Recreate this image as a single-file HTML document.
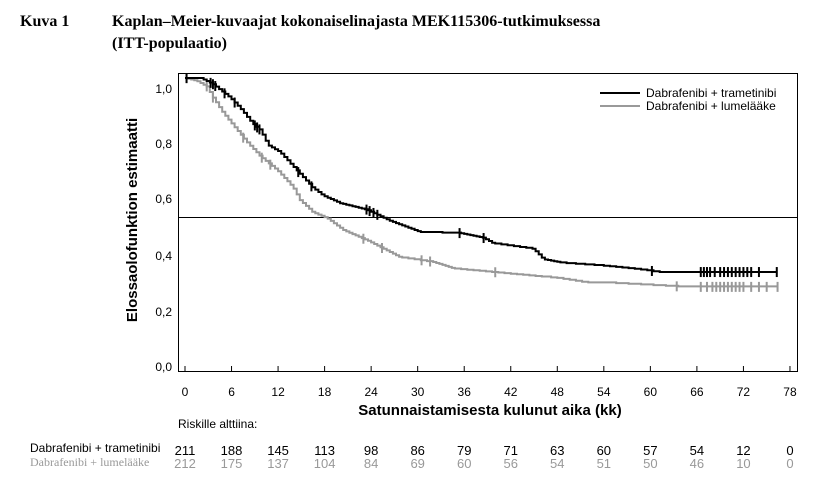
<!DOCTYPE html>
<html><head><meta charset="utf-8"><style>
body{margin:0;background:#fff;width:823px;height:488px;overflow:hidden}
svg{position:absolute;left:0;top:0}
</style></head><body>
<svg id="s" width="823" height="488" xmlns="http://www.w3.org/2000/svg">
<g font-family="Liberation Serif" font-weight="bold" font-size="16">
<text x="20" y="26">Kuva 1</text>
<text x="112" y="26">Kaplan–Meier-kuvaajat kokonaiselinajasta MEK115306-tutkimuksessa</text>
<text x="112" y="48">(ITT-populaatio)</text>
</g>
<rect x="178.5" y="73.5" width="619" height="298" fill="none" stroke="#000" stroke-width="1"/>
<line x1="178" y1="217.5" x2="797" y2="217.5" stroke="#000" stroke-width="1"/>
<g font-family="Liberation Sans" font-size="12" text-anchor="end">
<text x="172" y="93">1,0</text><text x="172" y="148">0,8</text><text x="172" y="203">0,6</text>
<text x="172" y="260">0,4</text><text x="172" y="316">0,2</text><text x="172" y="371">0,0</text>
</g>
<text transform="translate(137,220) rotate(-90)" text-anchor="middle" font-family="Liberation Sans" font-weight="bold" font-size="15">Elossaolofunktion estimaatti</text>
<g id="xt" font-family="Liberation Sans" font-size="12" text-anchor="middle"></g>
<text x="490" y="415" text-anchor="middle" font-family="Liberation Sans" font-weight="bold" font-size="15">Satunnaistamisesta kulunut aika (kk)</text>
<text x="178" y="428" font-family="Liberation Sans" font-size="12">Riskille alttiina:</text>
<text x="30" y="452" font-family="Liberation Sans" font-size="12">Dabrafenibi + trametinibi</text>
<text x="30" y="466" font-family="Liberation Serif" font-size="12" fill="#999">Dabrafenibi + lumelääke</text>
<g id="risk" font-family="Liberation Sans" font-size="13" text-anchor="middle"></g>
<line x1="600" y1="93" x2="640" y2="93" stroke="#000" stroke-width="2"/>
<line x1="600" y1="106" x2="640" y2="106" stroke="#999" stroke-width="2"/>
<g font-family="Liberation Sans" font-size="12">
<text x="646" y="97">Dabrafenibi + trametinibi</text>
<text x="646" y="110">Dabrafenibi + lumelääke</text>
</g>
<g id="curves"></g>
</svg>
<script>
var X=t=>185+t*7.756, Y=v=>358-280*v;
var s='',r='';
var a=[211,188,145,113,98,86,79,71,63,60,57,54,12,0],b=[212,175,137,104,84,69,60,56,54,51,50,46,10,0];
for(var i=0;i<=13;i++){var x=X(i*6);
s+='<text x="'+x+'" y="396">'+i*6+'</text><line x1="'+x+'" y1="366" x2="'+x+'" y2="371" stroke="#000"/>';
r+='<text x="'+x+'" y="455">'+a[i]+'</text><text x="'+x+'" y="468" fill="#999">'+b[i]+'</text>';}
document.getElementById('xt').innerHTML=s;document.getElementById('risk').innerHTML=r;
function interp(k,t){for(var i=1;i<k.length;i++)if(t<=k[i][0]){var p=k[i-1],q=k[i];return p[1]+(q[1]-p[1])*(t-p[0])/(q[0]-p[0]);}return k[k.length-1][1];}
function path(k,end,col,cens){var d='M'+X(0)+','+Y(1),prev=1,out='';
for(var t=0.4;t<=end;t+=0.4){var v=interp(k,t);if(Math.abs(v-prev)>0.002){d+='H'+X(t).toFixed(1)+'V'+Y(v).toFixed(1);prev=v;}}
d+='H'+X(end);
out+='<path d="'+d+'" fill="none" stroke="'+col+'" stroke-width="2"/>';
cens.forEach(function(t){var y=Y(interp(k,t));out+='<line x1="'+X(t)+'" y1="'+(y-5)+'" x2="'+X(t)+'" y2="'+(y+5)+'" stroke="'+col+'" stroke-width="2"/>';});
return out;}
var kb=[[0,1],[2,1],[3.5,0.98],[5.8,0.93],[7.3,0.886],[8.6,0.84],[9.7,0.814],[10.7,0.76],[12.2,0.736],[14.4,0.67],[16.4,0.61],[17.8,0.58],[20,0.553],[23.4,0.53],[26.4,0.49],[30.3,0.45],[35.5,0.446],[38.4,0.43],[39.7,0.41],[44.9,0.39],[46.2,0.353],[48.7,0.34],[53.9,0.33],[58.3,0.318],[61.2,0.307],[76.3,0.307]];
var kg=[[0,1],[1.5,0.99],[2.8,0.97],[3.6,0.93],[4.9,0.875],[6.7,0.814],[8,0.77],[9.7,0.72],[11.9,0.67],[13.9,0.61],[14.8,0.564],[16.5,0.52],[18.3,0.5],[20.4,0.457],[23.5,0.42],[27.7,0.36],[32,0.343],[34.6,0.32],[39.7,0.307],[44,0.296],[48,0.286],[51.8,0.27],[55.2,0.268],[64.7,0.254],[76.4,0.254]];
var cb=[0.2,3.3,3.6,3.9,5.1,6.4,9,9.3,9.6,14.6,16.3,23.4,23.8,24.3,24.8,35.4,38.5,60.2,66.5,66.9,67.3,67.7,68.3,69,69.5,70,70.5,71,71.5,72,72.5,73,74,76.3];
var cg=[0.2,2.8,3.6,7.5,9.9,11,23,25.4,30.5,31.6,40,63.4,66.5,67.3,68,68.5,69,69.5,70,70.5,71,71.5,72,73,74,75,76.4];
document.getElementById('curves').innerHTML=path(kg,76.4,'#999',cg)+path(kb,76.3,'#000',cb);
</script>
</body></html>
